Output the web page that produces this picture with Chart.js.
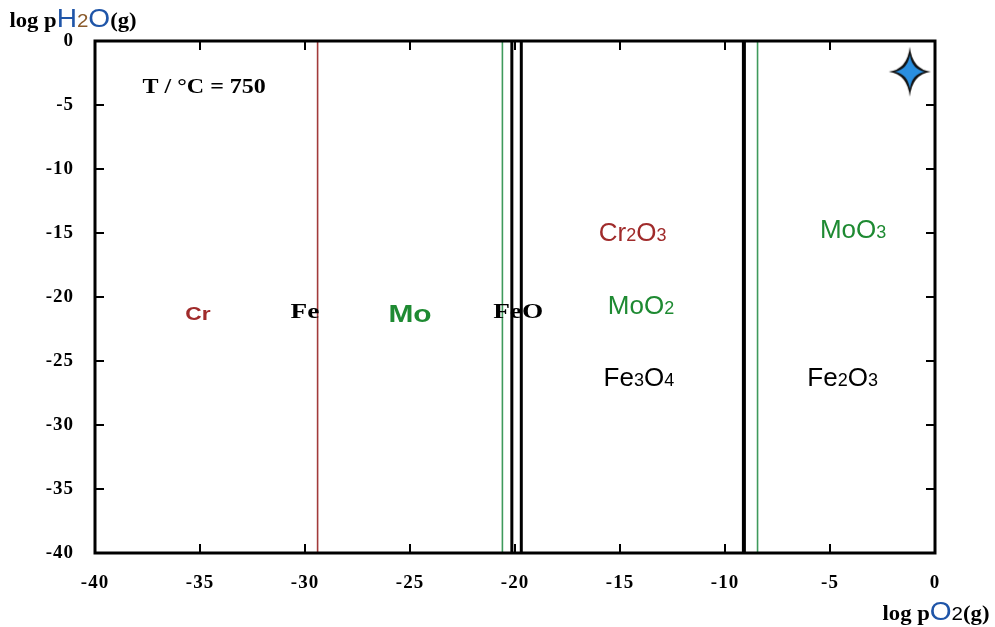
<!DOCTYPE html>
<html><head><meta charset="utf-8">
<script src="https://cdn.jsdelivr.net/npm/chart.js@4/dist/chart.umd.min.js"></script>
<style>html,body{margin:0;padding:0;background:#fff}#wrap{width:995px;height:627px}</style>
</head><body><div id="wrap"><canvas id="c" width="995" height="627"></canvas></div>
<script>
// ---- data ----
const xRange = [-40, 0];
const yRange = [-40, 0];
const tickStep = 5;
const boundaryX = [-29.4, -20.6, -20.15, -19.7, -9.1, -8.45];
const boundaryElement = ['Cr', 'Mo', 'Fe', 'Fe', 'Fe', 'Mo'];
const markerX = [-1.2];
const markerY = [-2.4];
const regionText = [['Cr'], ['Fe'], ['Mo'], ['FeO'], ['Cr','2','O','3'], ['Mo','O','2'], ['Fe','3','O','4'], ['Mo','O','3'], ['Fe','2','O','3']];
const regionX = [-35.1, -30.0, -25.0, -19.85, -14.4, -14.0, -14.1, -3.9, -4.4];
const regionY = [-21.2, -21.0, -21.3, -21.0, -15.0, -20.7, -26.3, -14.8, -26.3];
const tempLabel = 'T / °C = 750';
const tempX = -34.8, tempY = -3.5;

// ---- styles ----
const elemColor = {Cr: '#a23a3a', Mo: '#3f9a5c', Fe: '#000000'};
const elemWidth = {Cr: 1.6, Mo: 1.6, Fe: 3};
const textColor = {Cr: '#a02b2b', Mo: '#1e8a32', Fe: '#000000'};

const datasets = boundaryX.map((x, i) => ({
  type: 'line', showLine: true, pointRadius: 0,
  data: [{x: x, y: yRange[0]}, {x: x, y: yRange[1]}],
  borderColor: elemColor[boundaryElement[i]],
  borderWidth: (i === 4) ? 4 : elemWidth[boundaryElement[i]]
}));

// star marker
function makeStar() {
  const c = document.createElement('canvas'); c.width = 46; c.height = 54;
  const g = c.getContext('2d');
  function star(cx, cy, rx, ry, k) {
    g.beginPath();
    g.moveTo(cx, cy - ry);
    g.quadraticCurveTo(cx + k, cy - k, cx + rx, cy);
    g.quadraticCurveTo(cx + k, cy + k, cx, cy + ry);
    g.quadraticCurveTo(cx - k, cy + k, cx - rx, cy);
    g.quadraticCurveTo(cx - k, cy - k, cx, cy - ry);
    g.closePath();
  }
  star(23, 27, 21, 25, 2.5); g.fillStyle = '#111'; g.fill();
  star(23, 27, 15, 17, 2.2); g.fillStyle = '#2a8fe0'; g.fill();
  g.beginPath(); g.ellipse(23, 27, 5, 5.5, 0, 0, Math.PI * 2); g.fillStyle = '#2a8fe0'; g.fill();
  return c;
}
datasets.push({
  type: 'scatter',
  data: markerX.map((x, i) => ({x: x, y: markerY[i]})),
  pointStyle: makeStar(), pointRadius: 20
});

const tickFont = {family: '"Liberation Serif", "Times New Roman", serif', size: 19, weight: 'bold'};

function drawRuns(ctx, runs, cx, cy, color, sx) {
  sx = sx || 1;
  let w = 0;
  runs.forEach(r => { ctx.font = r.f; w += ctx.measureText(r.t).width; });
  ctx.save();
  ctx.translate(cx, cy); ctx.scale(sx, 1);
  let x = -w / 2;
  ctx.fillStyle = color; ctx.textBaseline = 'alphabetic'; ctx.textAlign = 'left';
  runs.forEach(r => { ctx.font = r.f; if (r.c) ctx.fillStyle = r.c; ctx.fillText(r.t, x, 0); x += ctx.measureText(r.t).width; });
  ctx.restore();
}

const spacing = {
  id: 'spacing',
  beforeDraw(chart) { chart.ctx.letterSpacing = '1px'; },
  afterDraw(chart) { chart.ctx.letterSpacing = '0px'; }
};

const overlay = {
  id: 'overlay',
  afterDatasetsDraw(chart) {
    const ctx = chart.ctx, a = chart.chartArea, xs = chart.scales.x, ys = chart.scales.y;
    ctx.save();
    ctx.letterSpacing = '0px';
    // inward ticks
    ctx.strokeStyle = '#000'; ctx.lineWidth = 2;
    xs.ticks.forEach(t => {
      const px = Math.round(xs.getPixelForValue(t.value));
      ctx.beginPath(); ctx.moveTo(px, a.bottom); ctx.lineTo(px, a.bottom - 9);
      ctx.moveTo(px, a.top); ctx.lineTo(px, a.top + 9); ctx.stroke();
    });
    ys.ticks.forEach(t => {
      const py = Math.round(ys.getPixelForValue(t.value));
      ctx.beginPath(); ctx.moveTo(a.left, py); ctx.lineTo(a.left + 9, py);
      ctx.moveTo(a.right, py); ctx.lineTo(a.right - 9, py); ctx.stroke();
    });
    // frame
    ctx.lineWidth = 3;
    ctx.strokeRect(a.left, a.top, a.right - a.left, a.bottom - a.top);

    const serifB = s => 'bold ' + s + 'px "Liberation Serif", "Times New Roman", serif';
    const sans = s => s + 'px "Liberation Sans", Arial, sans-serif';
    const sansB = s => 'bold ' + s + 'px "Liberation Sans", Arial, sans-serif';

    // temperature label
    drawRuns(ctx, [{t: tempLabel, f: serifB(20)}], xs.getPixelForValue(tempX), ys.getPixelForValue(tempY) + 7, '#000', 1.2);

    // region labels
    regionText.forEach((parts, i) => {
      const px = xs.getPixelForValue(regionX[i]), py = ys.getPixelForValue(regionY[i]);
      let runs, color, sx = 1;
      if (parts.length === 1) {
        const p = parts[0];
        if (p === 'Cr') { runs = [{t: p, f: sansB(19)}]; color = textColor.Cr; sx = 1.2; }
        else if (p === 'Mo') { runs = [{t: p, f: sansB(23)}]; color = textColor.Mo; sx = 1.3; }
        else { runs = [{t: p, f: serifB(21)}]; color = '#000'; sx = 1.3; }
      } else {
        runs = parts.map(p => ({t: p, f: /^\d$/.test(p) ? sans(18) : sans(26)}));
        color = textColor[parts[0]] || '#000';
      }
      drawRuns(ctx, runs, px, py + 8, color, sx);
    });

    // axis titles
    const blue = '#1f55a8';
    drawRuns(ctx, [{t: 'log p', f: serifB(21), c: '#000'}, {t: 'H', f: sans(26), c: blue}, {t: '2', f: sans(19), c: '#8a5a2a'}, {t: 'O', f: sans(26), c: blue}, {t: '(g)', f: serifB(21), c: '#000'}], 73, 27, '#000', 1.08);
    drawRuns(ctx, [{t: 'log p', f: serifB(21), c: '#000'}, {t: 'O', f: sans(26), c: blue}, {t: '2', f: sans(19), c: '#000'}, {t: '(g)', f: serifB(21), c: '#000'}], 936, 620, '#000', 1.08);
    ctx.restore();
  }
};

new Chart(document.getElementById('c'), {
  type: 'scatter',
  data: {datasets: datasets},
  options: {
    responsive: false, animation: false, devicePixelRatio: 1,
    layout: {padding: {top: 41, right: 60, left: 0, bottom: 0}},
    plugins: {legend: {display: false}, tooltip: {enabled: false}},
    scales: {
      x: {type: 'linear', min: xRange[0], max: xRange[1],
          ticks: {stepSize: tickStep, color: '#000', font: tickFont, padding: 19, maxRotation: 0},
          grid: {display: false, drawTicks: false}, border: {display: false},
          afterFit(s) { s.height = 74; }},
      y: {type: 'linear', min: yRange[0], max: yRange[1],
          ticks: {stepSize: tickStep, color: '#000', font: tickFont, padding: 21},
          grid: {display: false, drawTicks: false}, border: {display: false},
          afterFit(s) { s.width = 95; }}
    }
  },
  plugins: [spacing, overlay]
});
</script>
</body></html>
